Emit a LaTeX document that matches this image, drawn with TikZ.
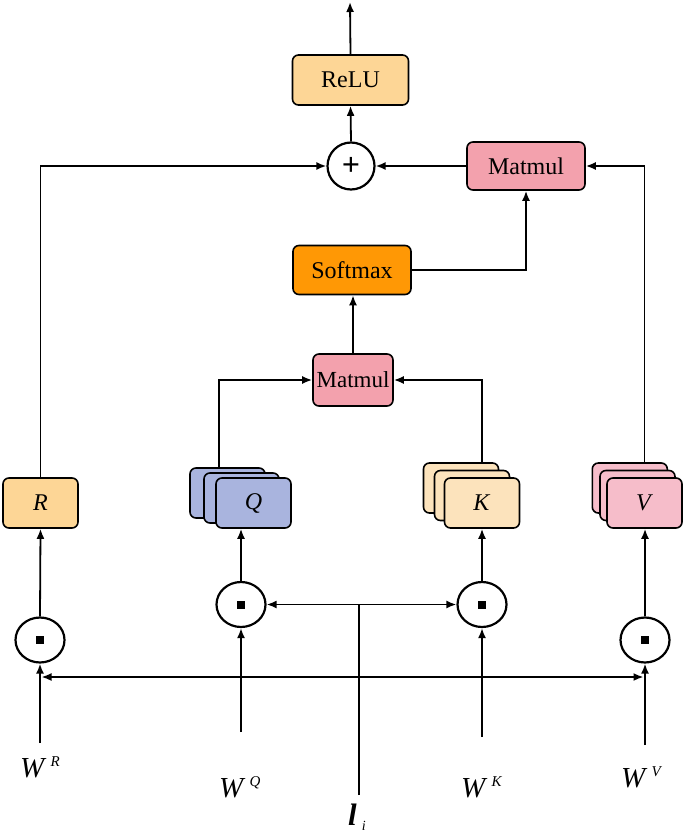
\documentclass[tikz,border=0pt]{standalone}
\usepackage{fontspec}
\setmainfont{Liberation Serif}
\usepackage{xcolor}
\usetikzlibrary{arrows.meta}
\usetikzlibrary{shapes.geometric}
\definecolor{reluor}{HTML}{FDD696}
\definecolor{softor}{HTML}{FF9805}
\definecolor{matpink}{HTML}{F3A1AD}
\definecolor{qblue}{HTML}{A9B4DE}
\definecolor{kpeach}{HTML}{FCE3BC}
\definecolor{vpink}{HTML}{F6BDCA}
\tikzstyle{blk}=[draw, line width=1.6pt, rounded corners=6pt, inner sep=0pt, font=\fontsize{24}{26}\selectfont]
\tikzstyle{qkv}=[blk, minimum width=75pt, minimum height=50pt]
\tikzstyle{opc}=[draw, circle, line width=2.2pt, minimum size=47pt, inner sep=0pt]
\tikzstyle{dotc}=[draw, ellipse, line width=2.2pt, minimum width=49pt, minimum height=45pt, inner sep=0pt]
\tikzstyle{lnk}=[line width=1.8pt, -{Latex[length=10pt,width=8pt]}]
\tikzstyle{dlnk}=[line width=1.8pt, {Latex[length=10pt,width=8pt]}-{Latex[length=10pt,width=8pt]}]
\tikzstyle{lab}=[anchor=base west, inner sep=0pt]
\newcommand{\wlab}[1]{\fontsize{29}{30}\selectfont\textit{W}\hspace{4pt}\raisebox{11pt}{\fontsize{15}{15}\selectfont\textit{#1}}}
\newcommand{\dotsq}{\rule{8pt}{8pt}}

\begin{document}
\begin{tikzpicture}[x=1pt,y=-1pt]
\useasboundingbox (0,0) rectangle (685,834);
% top part
\node[blk, fill=reluor, minimum width=116pt, minimum height=50pt] (relu) at (350.5,80) {ReLU};
\node[opc] (plus) at (351,166) {\fontsize{32}{32}\selectfont\textbf{+}};
\node[blk, fill=matpink, minimum width=118pt, minimum height=48pt] (mm1) at (526,166) {Matmul};
\node[blk, fill=softor, minimum width=118pt, minimum height=49pt] (soft) at (352,270) {Softmax};
\node[blk, fill=matpink, minimum width=80pt, minimum height=52pt, font=\fontsize{23}{24}\selectfont] (mm2) at (353,380) {Matmul};
\coordinate (out) at (350,2);
% R, Q, K, V
\node[qkv, fill=reluor] (R) at (40.5,503) {\textit{R}};
\foreach \n/\dx/\dy in {3/-26/-10,2/-12/-5} {
	\node[qkv, fill=qblue] (Q\n) at (253.5+\dx,503+\dy) {};
}
\node[qkv, fill=qblue] (Q) at (253.5,503) {\textit{Q}};
\foreach \n/\dx/\dy in {3/-21/-15,2/-10/-7.5} {
	\node[qkv, fill=kpeach] (K\n) at (482+\dx,503+\dy) {};
	\node[qkv, fill=vpink] (V\n) at (644.5+\dx*0.7,503+\dy) {};
}
\node[qkv, fill=kpeach] (K) at (482,503) {\textit{K}};
\node[qkv, fill=vpink] (V) at (644.5,503) {\textit{V}};
% product circles
\node[dotc] (RC) at (40,640) {\dotsq};
\node[dotc] (QC) at (241,604.5) {\dotsq};
\node[dotc] (KC) at (482,604.5) {\dotsq};
\node[dotc] (VC) at (645,640) {\dotsq};
% inputs
\node[lab] (wr) at (20,777) {\wlab{R}};
\node[lab] (wq) at (219,797) {\wlab{Q}};
\node[lab] (wk) at (461,797) {\wlab{K}};
\node[lab] (wv) at (621,787) {\wlab{V}};
\node[lab] (li) at (348,825) {\fontsize{31}{32}\selectfont\textbf{\textit{l}}\hspace{5pt}\raisebox{-5pt}{\fontsize{14}{14}\selectfont\textit{i}}};
\coordinate (wrin) at (40,743);
\coordinate (wqin) at (241,732);
\coordinate (wkin) at (482,737);
\coordinate (wvin) at (645,745);
\coordinate (liin) at (359,795);
\coordinate (bus) at (0,677);
% connectors
\draw[lnk] (relu.north) -- (out);
\draw[lnk] (plus.north) -- (relu.south);
\draw[lnk] (mm1.west) -- (plus.east);
\draw[lnk] (R.north) |- (plus.west);
\draw[lnk] (V3.north -| V.north) |- (mm1.east);
\draw[lnk] (soft.east) -| (mm1.south);
\draw[lnk] (mm2.north) -- (mm2.north |- soft.south);
\draw[lnk] ([xshift=-8.5pt]Q3.north) |- (mm2.west);
\draw[lnk] (K3.north -| K.north) |- (mm2.east);
\draw[lnk] (RC.north) -- (R.south);
\draw[lnk] (QC.north) -- (QC.north |- Q.south);
\draw[lnk] (KC.north) -- (K.south);
\draw[lnk] (VC.north) -- (VC.north |- V.south);
\draw[lnk] (wrin) -- (RC.south);
\draw[lnk] (wqin) -- (QC.south);
\draw[lnk] (wkin) -- (KC.south);
\draw[lnk] (wvin) -- (VC.south);
\draw[dlnk] (QC.east) -- (KC.west);
\draw[line width=1.8pt] (liin) -- (liin |- QC.east);
\draw[dlnk, shorten <=1.5pt, shorten >=1.5pt] (wrin |- bus) -- (wvin |- bus);
\end{tikzpicture}
\end{document}
